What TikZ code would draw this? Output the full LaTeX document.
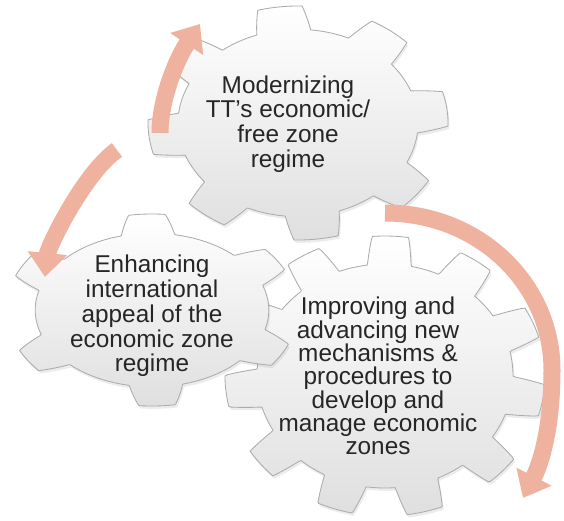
\documentclass[tikz,border=0pt]{standalone}
\usepackage{fontspec}
\setmainfont{Liberation Sans}
\usetikzlibrary{arrows.meta,shadows}

\definecolor{salmon}{RGB}{239,178,158}

% centre x, centre y, radius x, radius y, first tooth, pitch, tooth half-width
\newcommand{\gearshape}[7]{%
  \path[gear] plot[domain=0:360, samples=721, variable=\t]
    ({#1+#3*gearr(\t,#5,#6,#7)*cos(\t)}, {#2-#4*gearr(\t,#5,#6,#7)*sin(\t)}) -- cycle;}

\begin{document}
\begin{tikzpicture}[
    x=0.025cm, y=-0.025cm,
    declare function={gearr(\a,\s,\q,\w)=0.8+0.2*max(0,min(1,(\w+0.1-min(mod(\a-\s+720,\q)/\q,1-mod(\a-\s+720,\q)/\q))/0.1));},
    gear/.style={draw=gray!65, line width=0.6pt, top color=white, bottom color=gray!25, drop shadow={opacity=0.15, shadow xshift=1pt, shadow yshift=-2pt}},
    gtext/.style={align=center, text=black!85, font=\fontsize{17.3}{17.6}\selectfont, inner sep=0pt},
    arrow/.style={line width=0.425cm, draw=salmon, -{Triangle[length=0.6cm, width=0.95cm]}}
]
\path[fill=white, use as bounding box] (0,0) rectangle (564,520);

% Gears
\gearshape{385}{376}{160}{140}{88}{32.73}{0.2}
\gearshape{298}{123}{150}{117}{97}{45}{0.19}
\gearshape{152}{310}{146}{96}{92}{60}{0.12}

% Texts
\node[gtext] (modern) at (288,124) {Modernizing\\TT's economic/\\free zone\\regime};
\node[gtext] (appeal) at (152,316) {Enhancing\\international\\appeal of the\\economic zone\\regime};
\node[gtext, font=\fontsize{17.3}{16.6}\selectfont] (improve) at (378,376) {Improving and\\advancing new\\mechanisms \&\\procedures to\\develop and\\manage economic\\zones};

% Arrows
\coordinate (up0) at (160,133);
\coordinate (up1) at (200,24);
\coordinate (left0) at (117,150);
\coordinate (left1) at (45,277);
\coordinate (right0) at (385,213);
\coordinate (right1) at (523,498);
\draw[arrow] (up0) .. controls (160,100) and (176,60) .. (up1);
\draw[arrow] (left0) .. controls (84,173) and (48,247) .. (left1);
\draw[arrow] (right0) .. controls (480,213) and (552,285) .. (552,370) .. controls (552,430) and (540,465) .. (right1);

\end{tikzpicture}
\end{document}
